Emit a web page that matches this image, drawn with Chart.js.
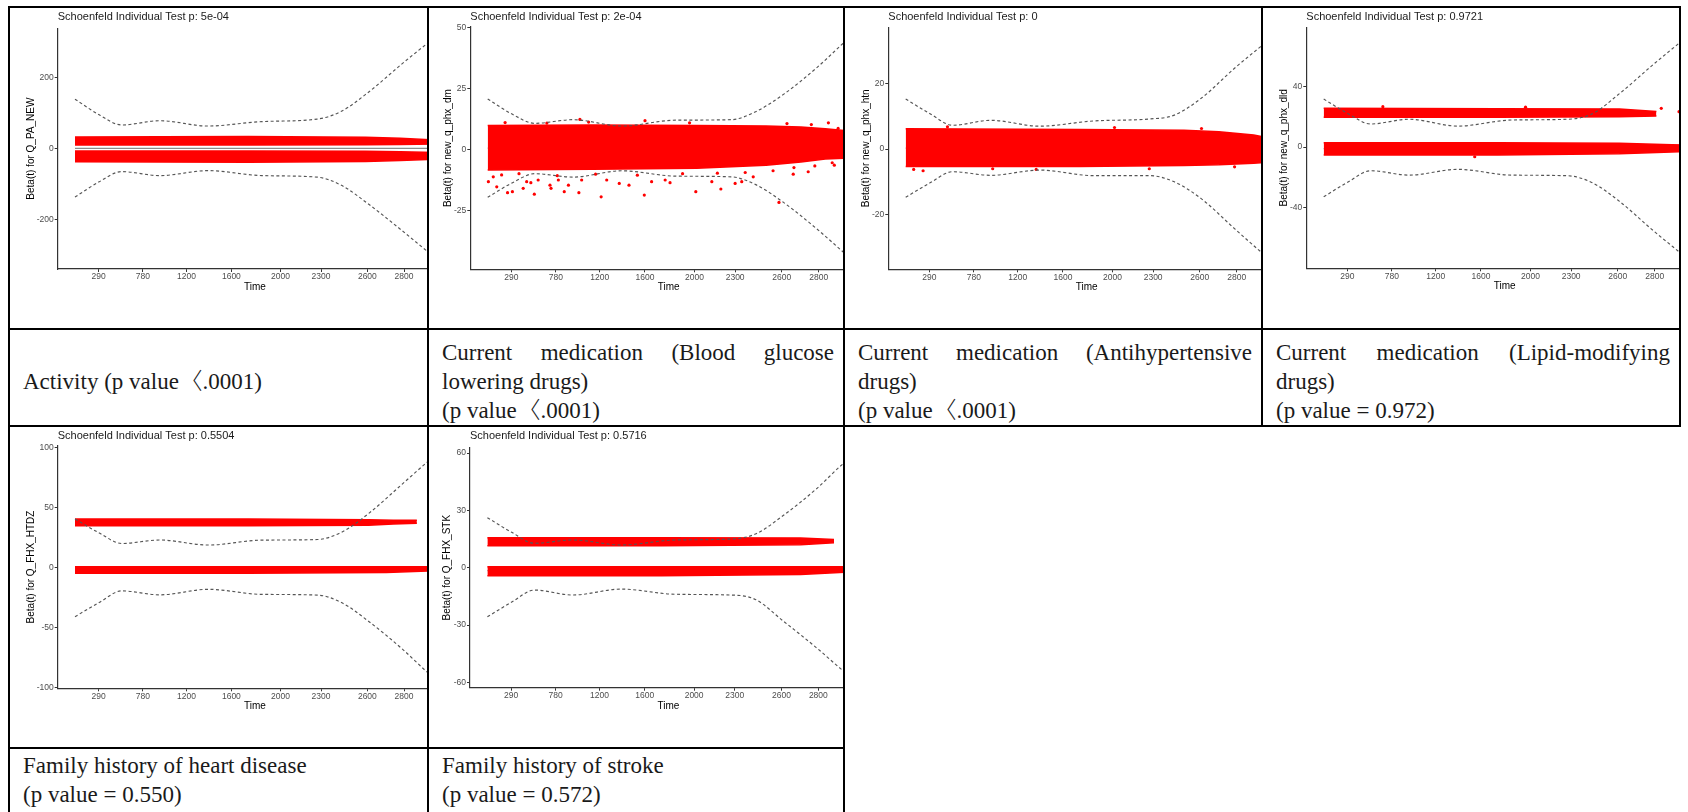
<!DOCTYPE html>
<html>
<head>
<meta charset="utf-8">
<script src="https://cdn.jsdelivr.net/npm/chart.js@4.4.1/dist/chart.umd.min.js"></script>
<style>
html,body{margin:0;padding:0;background:#fff;}
body{width:1688px;height:812px;overflow:hidden;position:relative;}
.ln{position:absolute;background:#000;}
.cell{position:absolute;overflow:hidden;background:#fff;}
.txt{position:absolute;box-sizing:border-box;font-family:'Liberation Serif','Noto Sans CJK KR',serif;font-size:23px;color:#1a1a1a;padding-left:13px;padding-right:9px;display:flex;flex-direction:column;}
.mid{justify-content:center;padding-top:7px;}
.topc{justify-content:flex-start;padding-top:2px;}
.l{height:29px;line-height:29px;white-space:nowrap;}
.j{text-align:justify;text-align-last:justify;white-space:normal;}
.b{margin-left:-5px;font-weight:300;}
</style>
</head>
<body>
<!-- table rules -->
<div class="ln" style="left:8px;top:6px;width:1673px;height:2px"></div>
<div class="ln" style="left:8px;top:328px;width:1673px;height:2px"></div>
<div class="ln" style="left:8px;top:425px;width:1673px;height:2px"></div>
<div class="ln" style="left:8px;top:747px;width:837px;height:2px"></div>
<div class="ln" style="left:8px;top:6px;width:2px;height:820px"></div>
<div class="ln" style="left:427px;top:6px;width:2px;height:820px"></div>
<div class="ln" style="left:843px;top:6px;width:2px;height:820px"></div>
<div class="ln" style="left:1261px;top:6px;width:2px;height:421px"></div>
<div class="ln" style="left:1679px;top:6px;width:2px;height:421px"></div>

<!-- chart cells -->
<div class="cell" id="w1"><canvas id="c1"></canvas></div>
<div class="cell" id="w2"><canvas id="c2"></canvas></div>
<div class="cell" id="w3"><canvas id="c3"></canvas></div>
<div class="cell" id="w4"><canvas id="c4"></canvas></div>
<div class="cell" id="w5"><canvas id="c5"></canvas></div>
<div class="cell" id="w6"><canvas id="c6"></canvas></div>

<!-- text cells -->
<div class="txt mid" style="left:10px;top:330px;width:417px;height:95px">
  <div class="l">Activity (p value <span class="b">〈</span>.0001)</div>
</div>
<div class="txt mid" style="left:429px;top:330px;width:414px;height:95px">
  <div class="l j">Current medication (Blood glucose</div>
  <div class="l">lowering drugs)</div>
  <div class="l">(p value <span class="b">〈</span>.0001)</div>
</div>
<div class="txt mid" style="left:845px;top:330px;width:416px;height:95px">
  <div class="l j">Current medication (Antihypertensive</div>
  <div class="l">drugs)</div>
  <div class="l">(p value <span class="b">〈</span>.0001)</div>
</div>
<div class="txt mid" style="left:1263px;top:330px;width:416px;height:95px">
  <div class="l j">Current medication (Lipid-modifying</div>
  <div class="l">drugs)</div>
  <div class="l">(p value = 0.972)</div>
</div>
<div class="txt topc" style="left:10px;top:749px;width:417px;height:70px">
  <div class="l">Family history of heart disease</div>
  <div class="l">(p value = 0.550)</div>
</div>
<div class="txt topc" style="left:429px;top:749px;width:414px;height:70px">
  <div class="l">Family history of stroke</div>
  <div class="l">(p value = 0.572)</div>
</div>

<script>
// ---------- shared axis data ----------
const xTickLabels = ['290', '780', '1200', '1600', '2000', '2300', '2600', '2800'];
const xTickPos = [0.068, 0.196, 0.322, 0.452, 0.594, 0.711, 0.845, 0.951];
const xTitle = 'Time';
const ciT = [0, 0.07, 0.135, 0.245, 0.385, 0.54, 0.70, 0.77, 0.85, 0.945, 1.02, 1.04];
const fitT = [0, 0.5, 1.04];

// ---------- panel 1 : Activity ----------
const p1Title = 'Schoenfeld Individual Test p: 5e-04';
const p1YLabel = 'Beta(t) for Q_PA_NEW';
const p1YTicks = [-200, 0, 200];
const p1YRange = [-338, 338];
const p1Upper = [139, 95, 66.5, 78.5, 63.5, 76, 83, 105, 160, 238, 297, 312];
const p1Lower = [-136, -93, -64.5, -75.7, -61.7, -75.7, -80, -103, -157, -230, -290, -306];
const p1Fit = [1, 1, 1];
const p1UpBandT = [0, 0.5, 0.84, 0.94, 1.04];
const p1UpBandTop = [33, 34, 32, 29, 24];
const p1UpBandBot = [10, 10, 11, 12, 13];
const p1LoBandT = [0, 0.5, 0.84, 0.94, 1.04];
const p1LoBandTop = [-6.5, -6.5, -7, -9, -11];
const p1LoBandBot = [-37, -38, -36, -33, -30];

// ---------- panel 2 : blood glucose lowering drugs ----------
const p2Title = 'Schoenfeld Individual Test p: 2e-04';
const p2YLabel = 'Beta(t) for new_q_phx_dm';
const p2YTicks = [-25, 0, 25, 50];
const p2YRange = [-49.3, 50.3];
const p2Upper = [20.7, 14.5, 10.7, 12.2, 9.6, 12.0, 12.2, 15.5, 22.6, 33.5, 43.4, 46];
const p2Lower = [-19.7, -13.8, -10.0, -11.4, -8.8, -11.0, -11.3, -14.5, -21.8, -32.6, -42, -44.5];
const p2Fit = [0.5, 0.5, 0.8];
const p2BandT = [0, 0.3, 0.6, 0.8, 0.9, 0.97, 1.04];
const p2BandTop = [9.8, 10, 9.8, 9.6, 9.2, 8.5, 7.5];
const p2BandBot = [-8.5, -8.2, -7.8, -6.5, -5.2, -4, -3.5];
const p2OutT = [0.002, 0.016, 0.026, 0.057, 0.071, 0.102, 0.112, 0.124, 0.134, 0.145,
                0.179, 0.182, 0.203, 0.220, 0.232, 0.262, 0.270, 0.326, 0.342, 0.378,
                0.406, 0.450, 0.471, 0.510, 0.524, 0.598, 0.644, 0.670, 0.711, 0.730,
                0.763, 0.837, 0.878, 0.921, 0.996,
                0.265, 0.452, 1.007, 0.979,
                0.04, 0.09, 0.20, 0.31, 0.43, 0.56, 0.66, 0.74, 0.82, 0.88, 0.94, 0.99,
                0.05, 0.17, 0.29, 0.58, 0.86, 0.93];
const p2OutV = [-13.3, -11.3, -15.4, -17.8, -17.4, -16.0, -13.3, -13.7, -18.4, -12.6,
                -14.7, -16.0, -12.6, -17.4, -14.7, -17.8, -12.6, -19.5, -12.6, -14.0,
                -14.7, -18.8, -13.3, -12.6, -13.7, -17.4, -13.3, -16.3, -14.0, -13.3,
                -11.3, -21.8, -10.2, -9.2, -6.5,
                12.3, 11.8, 8.6, 10.9,
                -10.5, -10, -10.8, -10.2, -10.6, -10, -9.8, -9.5, -8.8, -7.5, -6.8, -5.5,
                11, 10.8, 11.2, 10.9, 10.6, 10.2];

// ---------- panel 3 : antihypertensive drugs ----------
const p3Title = 'Schoenfeld Individual Test p: 0';
const p3YLabel = 'Beta(t) for new_q_phx_htn';
const p3YTicks = [-20, 0, 20];
const p3YRange = [-36.7, 37.2];
const p3Upper = [15.3, 10.8, 7.3, 8.8, 7.0, 8.6, 9.2, 10.3, 15.6, 24.7, 31.3, 33];
const p3Lower = [-14.7, -10.3, -6.9, -8.0, -6.4, -8.1, -8.1, -9.9, -15.2, -24.3, -31.3, -33];
const p3Fit = [0.3, 0.3, 0.5];
const p3BandT = [0, 0.5, 0.8, 0.9, 1.0, 1.04];
const p3BandTop = [6.2, 6.0, 5.8, 5.3, 4.3, 3.5];
const p3BandBot = [-5.3, -5.3, -5.0, -4.8, -4.3, -4.0];
const p3OutT = [0.023, 0.05, 0.375, 0.945, 0.12, 0.6, 0.85, 0.25, 0.7];
const p3OutV = [-6.2, -6.6, -6.2, -5.4, 6.8, 6.6, 6.3, -6.0, -6.0];

// ---------- panel 4 : lipid-modifying drugs ----------
const p4Title = 'Schoenfeld Individual Test p: 0.9721';
const p4YLabel = 'Beta(t) for new_q_phx_dld';
const p4YTicks = [-40, 0, 40];
const p4YRange = [-79.9, 78.9];
const p4Upper = [31.6, 22, 15.2, 18.3, 13.8, 17.8, 18.3, 21.7, 35.2, 54, 68.2, 72];
const p4Lower = [-32.8, -23, -15.6, -18.5, -14.7, -18.5, -18.9, -23.3, -35.8, -54.7, -68.8, -72.5];
const p4Fit = [-1, -1, -1];
const p4UpBandT = [0, 0.5, 0.85, 0.956];
const p4UpBandTop = [25.5, 25.3, 25, 23.5];
const p4UpBandBot = [19.6, 19.6, 20, 20.5];
const p4LoBandT = [0, 0.5, 0.85, 1.0, 1.04];
const p4LoBandTop = [2.8, 2.8, 2.5, 1.5, 1.3];
const p4LoBandBot = [-5.3, -5.3, -4.5, -3.2, -3];
const p4OutT = [0.970, 1.021, 0.434, 0.17, 0.58, 0.90, 0.93];
const p4OutV = [25.5, 23.3, -6.4, 26.6, 26.3, 22.5, 21.5];

// ---------- panel 5 : family history of heart disease ----------
const p5Title = 'Schoenfeld Individual Test p: 0.5504';
const p5YLabel = 'Beta(t) for Q_FHX_HTDZ';
const p5YTicks = [-100, -50, 0, 50, 100];
const p5YRange = [-100.5, 101.7];
const p5Upper = [40.6, 29, 20.2, 23.1, 18.9, 23, 23.5, 29.5, 45.5, 69.5, 88.5, 93];
const p5Lower = [-40.8, -29, -19.3, -22.6, -18, -22.2, -22.8, -29, -45, -67.5, -87.5, -92];
const p5Fit = [-1.5, -1.5, -1.5];
const p5UpBandT = [0, 0.5, 0.848, 0.92, 0.988];
const p5UpBandTop = [40.6, 40.6, 40.0, 39.6, 39.6];
const p5UpBandBot = [35.0, 35.0, 35.5, 36.5, 37];
const p5LoBandT = [0, 0.5, 0.9, 1.04];
const p5LoBandTop = [0.8, 0.8, 0.8, 0.8];
const p5LoBandBot = [-4.7, -4.7, -4, -2.5];

// ---------- panel 6 : family history of stroke ----------
const p6Title = 'Schoenfeld Individual Test p: 0.5716';
const p6YLabel = 'Beta(t) for Q_FHX_STK';
const p6YTicks = [-60, -30, 0, 30, 60];
const p6YRange = [-62.8, 62.8];
const p6Upper = [26.2, 18.5, 12.8, 14.5, 11.9, 14.5, 15.0, 17.6, 27.3, 41.2, 54.1, 57];
const p6Lower = [-25.7, -18, -11.7, -14.3, -11.2, -13.9, -14.3, -16.6, -27.9, -41.8, -53.6, -56.5];
const p6Fit = [-1.5, -1.5, -1.5];
const p6UpBandT = [0, 0.5, 0.90, 0.996];
const p6UpBandTop = [15.7, 15.7, 15.5, 14.8];
const p6UpBandBot = [11.5, 11.5, 12, 13];
const p6LoBandT = [0, 0.5, 0.9, 1.04];
const p6LoBandTop = [0.5, 0.5, 0.5, 0.5];
const p6LoBandBot = [-4.2, -4.2, -3.5, -2.2];

// ---------- assemble ----------
const panels = [
  {id: 1, title: p1Title, yLabel: p1YLabel, yTicks: p1YTicks, yRange: p1YRange, upper: p1Upper, lower: p1Lower, fit: p1Fit,
   bands: [[p1UpBandT, p1UpBandTop, p1UpBandBot], [p1LoBandT, p1LoBandTop, p1LoBandBot]], out: null,
   L: {cellL: 10, cellT: 8, cellR: 427, cellB: 328, axisX: 57.7, w: 346, plotTop: 28.3, axisY: 269, timeY: 287, yTitleX: 31, titleY: 16.7}},
  {id: 2, title: p2Title, yLabel: p2YLabel, yTicks: p2YTicks, yRange: p2YRange, upper: p2Upper, lower: p2Lower, fit: p2Fit,
   bands: [[p2BandT, p2BandTop, p2BandBot]], out: [p2OutT, p2OutV],
   L: {cellL: 429, cellT: 8, cellR: 843, cellB: 328, axisX: 470.3, w: 348, plotTop: 27, axisY: 269.3, timeY: 287.3, yTitleX: 448.3, titleY: 16.7}},
  {id: 3, title: p3Title, yLabel: p3YLabel, yTicks: p3YTicks, yRange: p3YRange, upper: p3Upper, lower: p3Lower, fit: p3Fit,
   bands: [[p3BandT, p3BandTop, p3BandBot]], out: [p3OutT, p3OutV],
   L: {cellL: 845, cellT: 8, cellR: 1261, cellB: 328, axisX: 888.3, w: 348, plotTop: 27.3, axisY: 269.3, timeY: 287.3, yTitleX: 866.3, titleY: 16.7}},
  {id: 4, title: p4Title, yLabel: p4YLabel, yTicks: p4YTicks, yRange: p4YRange, upper: p4Upper, lower: p4Lower, fit: p4Fit,
   bands: [[p4UpBandT, p4UpBandTop, p4UpBandBot], [p4LoBandT, p4LoBandTop, p4LoBandBot]], out: [p4OutT, p4OutV],
   L: {cellL: 1263, cellT: 8, cellR: 1679, cellB: 328, axisX: 1306.3, w: 348, plotTop: 27.3, axisY: 268.3, timeY: 286, yTitleX: 1284, titleY: 16.7}},
  {id: 5, title: p5Title, yLabel: p5YLabel, yTicks: p5YTicks, yRange: p5YRange, upper: p5Upper, lower: p5Lower, fit: p5Fit,
   bands: [[p5UpBandT, p5UpBandTop, p5UpBandBot], [p5LoBandT, p5LoBandTop, p5LoBandBot]], out: null,
   L: {cellL: 10, cellT: 427, cellR: 427, cellB: 747, axisX: 57.7, w: 346, plotTop: 445.7, axisY: 688.3, timeY: 706, yTitleX: 31, titleY: 436}},
  {id: 6, title: p6Title, yLabel: p6YLabel, yTicks: p6YTicks, yRange: p6YRange, upper: p6Upper, lower: p6Lower, fit: p6Fit,
   bands: [[p6UpBandT, p6UpBandTop, p6UpBandBot], [p6LoBandT, p6LoBandTop, p6LoBandBot]], out: null,
   L: {cellL: 429, cellT: 427, cellR: 843, cellB: 747, axisX: 470, w: 348, plotTop: 447.7, axisY: 687.7, timeY: 706, yTitleX: 447.3, titleY: 436}}
];

Chart.defaults.font.family = '"Liberation Sans", Arial, sans-serif';

const RED = '#ff0000';
const zip = (xs, ys) => xs.map((x, i) => ({x: x, y: ys[i]}));

const titlePlugin = {
  id: 'panelTitle',
  afterDraw(chart, args, opts) {
    const ctx = chart.ctx;
    ctx.save();
    ctx.font = '11px "Liberation Sans", Arial, sans-serif';
    ctx.fillStyle = '#1a1a1a';
    ctx.textAlign = 'left';
    ctx.textBaseline = 'middle';
    ctx.fillText(opts.text, chart.chartArea.left, opts.y);
    ctx.restore();
  }
};

const TICK_SIZE = 8.5, TITLE_SIZE = 10;
const X_MIN = -0.05, X_MAX = 1.09;

panels.forEach(p => {
  const L = p.L;
  const lhT = TITLE_SIZE * 1.2;
  const chartRight = L.axisX + (X_MAX - X_MIN) * L.w;
  const cw = Math.ceil(chartRight - L.cellL + 2);
  const ch = L.cellB - L.cellT;
  const padLeft = L.yTitleX - L.cellL - lhT / 2;
  const yW = L.axisX - L.cellL - padLeft;
  const padTop = L.plotTop - L.cellT;
  const xBottom = L.timeY + lhT / 2;
  const xH = xBottom - L.axisY;
  const padBottom = L.cellB - xBottom;
  const padRight = cw - (chartRight - L.cellL);

  const wrap = document.getElementById('w' + p.id);
  wrap.style.left = L.cellL + 'px';
  wrap.style.top = L.cellT + 'px';
  wrap.style.width = (L.cellR - L.cellL) + 'px';
  wrap.style.height = ch + 'px';
  const cv = document.getElementById('c' + p.id);
  cv.width = cw; cv.height = ch;
  cv.style.width = cw + 'px'; cv.style.height = ch + 'px';

  const datasets = [];
  datasets.push({data: zip(ciT, p.upper), borderColor: '#555555', borderWidth: 1.15, borderDash: [3, 2.5],
                 cubicInterpolationMode: 'monotone', fill: false, pointRadius: 0});
  datasets.push({data: zip(ciT, p.lower), borderColor: '#555555', borderWidth: 1.15, borderDash: [3, 2.5],
                 cubicInterpolationMode: 'monotone', fill: false, pointRadius: 0});
  if (p.out) {
    datasets.push({data: zip(p.out[0], p.out[1]), showLine: false, pointRadius: 1.6, pointHoverRadius: 0,
                   pointBackgroundColor: RED, pointBorderWidth: 0, borderColor: RED});
  }
  p.bands.forEach(b => {
    datasets.push({data: zip(b[0], b[1]), borderColor: RED, borderWidth: 1.5, backgroundColor: RED,
                   fill: '+1', tension: 0, pointRadius: 0});
    datasets.push({data: zip(b[0], b[2]), borderColor: RED, borderWidth: 1.5, fill: false, tension: 0, pointRadius: 0});
  });
  datasets.push({data: zip(fitT, p.fit), borderColor: '#8c8c8c', borderWidth: 1.3, fill: false, pointRadius: 0});

  const axisCommon = {
    grid: {drawOnChartArea: false, drawTicks: true, tickLength: 3, color: '#333', lineWidth: 1},
    border: {display: true, color: '#333', width: 1.2}
  };

  new Chart(cv, {
    type: 'line',
    data: {datasets: datasets},
    options: {
      responsive: false, animation: false, devicePixelRatio: 1,
      layout: {padding: {left: padLeft, top: padTop, right: padRight, bottom: padBottom}},
      plugins: {legend: {display: false}, tooltip: {enabled: false}, title: {display: false},
                panelTitle: {text: p.title, y: L.titleY - L.cellT}},
      elements: {point: {radius: 0}},
      scales: {
        x: Object.assign({
          type: 'linear', min: X_MIN, max: X_MAX,
          afterBuildTicks: s => { s.ticks = xTickPos.map(v => ({value: v})); },
          afterFit: s => { s.height = xH; },
          ticks: {callback: (v) => xTickLabels[xTickPos.indexOf(v)], font: {size: TICK_SIZE}, color: '#4d4d4d',
                  padding: 0, maxRotation: 0, autoSkip: false},
          title: {display: true, text: xTitle, font: {size: TITLE_SIZE}, color: '#000', padding: 0}
        }, axisCommon),
        y: Object.assign({
          type: 'linear', min: p.yRange[0], max: p.yRange[1],
          afterBuildTicks: s => { s.ticks = p.yTicks.map(v => ({value: v})); },
          afterFit: s => { s.width = yW; },
          ticks: {callback: v => String(v), font: {size: TICK_SIZE}, color: '#4d4d4d', padding: 1, autoSkip: false},
          title: {display: true, text: p.yLabel, font: {size: TITLE_SIZE}, color: '#000', padding: 0}
        }, axisCommon)
      }
    },
    plugins: [titlePlugin]
  });
});
</script>
</body>
</html>
